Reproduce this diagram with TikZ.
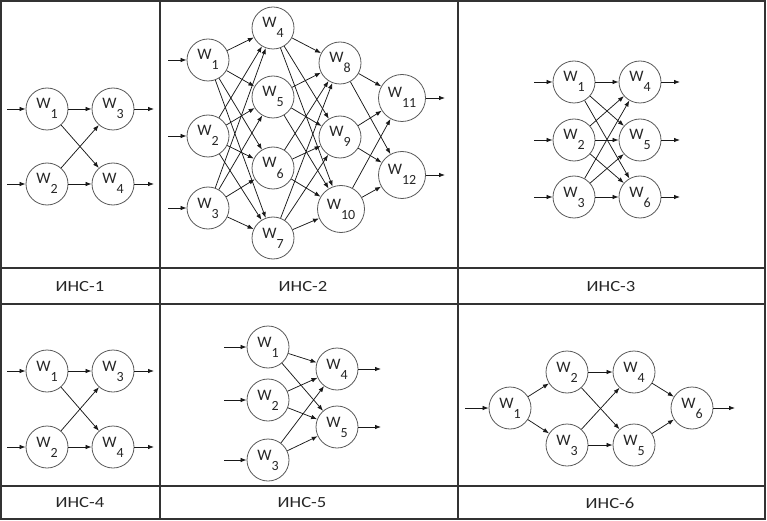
\documentclass[tikz,border=0pt]{standalone}
\usepackage{fontspec}
\setmainfont{Carlito}
\newfontfamily\capfont[FakeStretch=1.2]{Carlito}
\usetikzlibrary{arrows.meta}
\newcommand{\wl}[1]{W\raisebox{-10pt}{\fontsize{14}{14}\selectfont #1}}
\tikzset{
  neuron/.style={circle, draw=black!65, line width=0.8pt, minimum size=42pt, inner sep=0pt,
    text=black!85, font=\fontsize{16}{16}\selectfont, text height=10pt, text depth=10pt},
  bigneuron/.style={neuron, minimum size=47pt},
  conn/.style={-{Latex[length=6pt,width=4.5pt]}, line width=0.75pt, draw=black!90},
  gridline/.style={draw=black!80, line width=1.2pt},
  caption/.style={font=\capfont\fontsize{15.5}{15.5}\selectfont, text=black!85}
}
\begin{document}
\begin{tikzpicture}[x=1pt,y=-1pt]
\useasboundingbox (0,0) rectangle (767,521);
% grid
\draw[gridline] (1,1) rectangle (765,519);
\draw[gridline] (1,268) -- (765,268);
\draw[gridline] (1,304) -- (765,304);
\draw[gridline] (1,486) -- (765,486);
\draw[gridline] (160,1) -- (160,519);
\draw[gridline] (458,1) -- (458,519);
% captions
\node[caption] (t1) at (80,287) {ИНС-1};
\node[caption] (t2) at (303,287) {ИНС-2};
\node[caption] (t3) at (611,287) {ИНС-3};
\node[caption] (t4) at (80,503) {ИНС-4};
\node[caption] (t5) at (302,503) {ИНС-5};
\node[caption] (t6) at (610,503) {ИНС-6};

% ---------- Panel 1 ----------
\node[neuron] (a1) at (47,109) {\wl{1}};
\node[neuron] (a2) at (47,184) {\wl{2}};
\node[neuron] (a3) at (113,109) {\wl{3}};
\node[neuron] (a4) at (113,184) {\wl{4}};
\coordinate (ai1) at (7,109); \coordinate (ai2) at (7,184);
\coordinate (ao3) at (154,109); \coordinate (ao4) at (154,184);
\draw[conn] (ai1) -- (a1); \draw[conn] (ai2) -- (a2);
\draw[conn] (a3) -- (ao3); \draw[conn] (a4) -- (ao4);
\foreach \s in {1,2} \foreach \t in {3,4} \draw[conn] (a\s) -- (a\t);

% ---------- Panel 2 ----------
\node[neuron] (b1) at (208,60) {\wl{1}};
\node[neuron] (b2) at (208,136) {\wl{2}};
\node[neuron] (b3) at (208,208) {\wl{3}};
\node[neuron] (b4) at (273,28) {\wl{4}};
\node[neuron] (b5) at (273,97) {\wl{5}};
\node[neuron] (b6) at (273,168) {\wl{6}};
\node[neuron] (b7) at (273,238) {\wl{7}};
\node[neuron] (b8) at (340,63) {\wl{8}};
\node[neuron] (b9) at (340,137) {\wl{9}};
\node[bigneuron] (b10) at (341,209) {\wl{10}};
\node[bigneuron] (b11) at (402,98) {\wl{11}};
\node[bigneuron] (b12) at (402,175) {\wl{12}};
\coordinate (bi1) at (168,60); \coordinate (bi2) at (168,136); \coordinate (bi3) at (168,208);
\coordinate (bo11) at (445,98); \coordinate (bo12) at (445,175);
\draw[conn] (bi1) -- (b1); \draw[conn] (bi2) -- (b2); \draw[conn] (bi3) -- (b3);
\draw[conn] (b11) -- (bo11); \draw[conn] (b12) -- (bo12);
\foreach \s in {1,2,3} \foreach \t in {4,5,6,7} \draw[conn] (b\s) -- (b\t);
\foreach \s in {4,5,6,7} \foreach \t in {8,9,10} \draw[conn] (b\s) -- (b\t);
\foreach \s in {8,9,10} \foreach \t in {11,12} \draw[conn] (b\s) -- (b\t);

% ---------- Panel 3 ----------
\node[neuron] (c1) at (574,82) {\wl{1}};
\node[neuron] (c2) at (574,140) {\wl{2}};
\node[neuron] (c3) at (574,197) {\wl{3}};
\node[neuron] (c4) at (640,82) {\wl{4}};
\node[neuron] (c5) at (640,140) {\wl{5}};
\node[neuron] (c6) at (640,197) {\wl{6}};
\coordinate (ci1) at (534,82); \coordinate (ci2) at (534,140); \coordinate (ci3) at (534,197);
\coordinate (co4) at (680,82); \coordinate (co5) at (680,140); \coordinate (co6) at (680,197);
\draw[conn] (ci1) -- (c1); \draw[conn] (ci2) -- (c2); \draw[conn] (ci3) -- (c3);
\draw[conn] (c4) -- (co4); \draw[conn] (c5) -- (co5); \draw[conn] (c6) -- (co6);
\foreach \s in {1,2,3} \foreach \t in {4,5,6} \draw[conn] (c\s) -- (c\t);

% ---------- Panel 4 ----------
\node[neuron] (d1) at (47,371) {\wl{1}};
\node[neuron] (d2) at (47,447) {\wl{2}};
\node[neuron] (d3) at (113,371) {\wl{3}};
\node[neuron] (d4) at (113,447) {\wl{4}};
\coordinate (di1) at (7,371); \coordinate (di2) at (7,447);
\coordinate (do3) at (154,371); \coordinate (do4) at (154,447);
\draw[conn] (di1) -- (d1); \draw[conn] (di2) -- (d2);
\draw[conn] (d3) -- (do3); \draw[conn] (d4) -- (do4);
\foreach \s in {1,2} \foreach \t in {3,4} \draw[conn] (d\s) -- (d\t);

% ---------- Panel 5 ----------
\node[neuron] (e1) at (268,347) {\wl{1}};
\node[neuron] (e2) at (268,400) {\wl{2}};
\node[neuron] (e3) at (268,460) {\wl{3}};
\node[neuron] (e4) at (337,369) {\wl{4}};
\node[neuron] (e5) at (337,427) {\wl{5}};
\coordinate (ei1) at (224,347); \coordinate (ei2) at (224,400); \coordinate (ei3) at (224,460);
\coordinate (eo4) at (381,369); \coordinate (eo5) at (381,427);
\draw[conn] (ei1) -- (e1); \draw[conn] (ei2) -- (e2); \draw[conn] (ei3) -- (e3);
\draw[conn] (e4) -- (eo4); \draw[conn] (e5) -- (eo5);
\foreach \s in {1,2,3} \foreach \t in {4,5} \draw[conn] (e\s) -- (e\t);

% ---------- Panel 6 ----------
\node[neuron] (f1) at (510,408) {\wl{1}};
\node[neuron] (f2) at (567,372) {\wl{2}};
\node[neuron] (f3) at (567,445) {\wl{3}};
\node[neuron] (f4) at (634,372) {\wl{4}};
\node[neuron] (f5) at (634,445) {\wl{5}};
\node[neuron] (f6) at (692,408) {\wl{6}};
\coordinate (fi1) at (465,408); \coordinate (fo6) at (735,408);
\draw[conn] (fi1) -- (f1); \draw[conn] (f6) -- (fo6);
\draw[conn] (f1) -- (f2); \draw[conn] (f1) -- (f3);
\foreach \s in {2,3} \foreach \t in {4,5} \draw[conn] (f\s) -- (f\t);
\draw[conn] (f4) -- (f6); \draw[conn] (f5) -- (f6);
\end{tikzpicture}
\end{document}
